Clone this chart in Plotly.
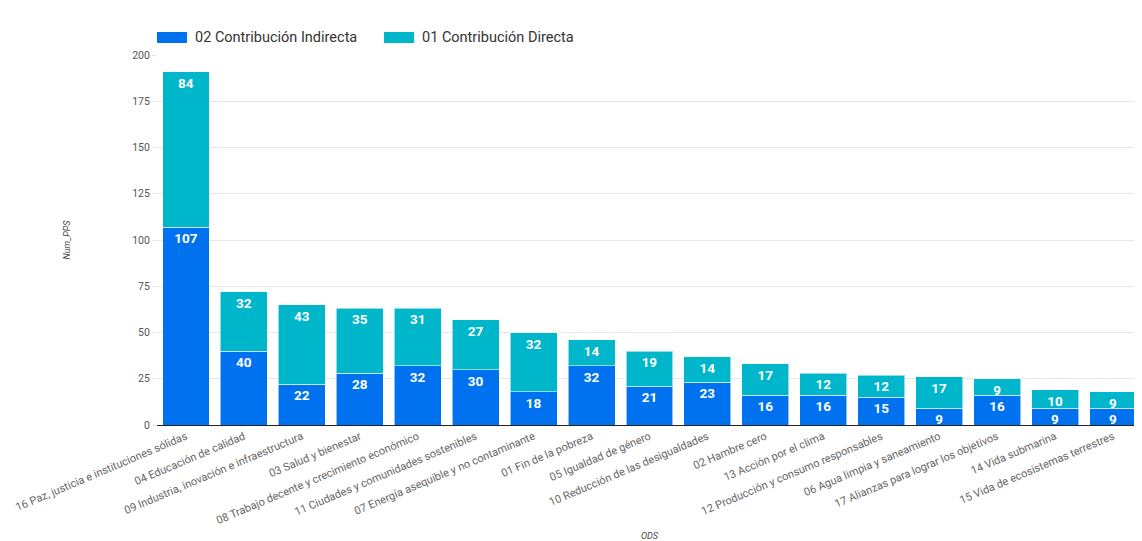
import plotly.graph_objects as go

categories = [
    "16 Paz, justicia e instituciones sólidas",
    "04 Educación de calidad",
    "09 Industria, inovación e infraestructura",
    "03 Salud y bienestar",
    "08 Trabajo decente y crecimiento económico",
    "11 Ciudades y comunidades sostenibles",
    "07 Energía asequible y no contaminante",
    "01 Fin de la pobreza",
    "05 Igualdad de género",
    "10 Reducción de las desigualdades",
    "02 Hambre cero",
    "13 Acción por el clima",
    "12 Producción y consumo responsables",
    "06 Agua limpia y saneamiento",
    "17 Alianzas para lograr los objetivos",
    "14 Vida submarina",
    "15 Vida de ecosistemas terrestres",
]
indirecta = [107, 40, 22, 28, 32, 30, 18, 32, 21, 23, 16, 16, 15, 9, 16, 9, 9]
directa = [84, 32, 43, 35, 31, 27, 32, 14, 19, 14, 17, 12, 12, 17, 9, 10, 9]
series_names = ["02 Contribución Indirecta", "01 Contribución Directa"]
series_colors = ["#0072f0", "#00b6cb"]
y_ticks = [0, 25, 50, 75, 100, 125, 150, 175, 200]

FONT = "Roboto, Open Sans, sans-serif"

fig = go.Figure()
for vals, name, color in zip([indirecta, directa], series_names, series_colors):
    fig.add_trace(go.Bar(
        x=categories, y=vals, name=name,
        marker=dict(color=color, line=dict(color="rgba(255,255,255,0.55)", width=1)),
        text=vals, textposition="inside", insidetextanchor="end",
        constraintext="none",
        textfont=dict(color="white", size=13.5, family=FONT, weight="bold"),
        textangle=0, showlegend=False,
    ))

# Legend drawn as wide swatches + text (as in the reference)
legend_x = [0.0, 0.2305]
for lx, name, color in zip(legend_x, series_names, series_colors):
    fig.add_shape(type="rect", xref="paper", yref="paper",
                  x0=lx, x1=lx + 0.0305, y0=1.0324, y1=1.0622,
                  fillcolor=color, line=dict(width=0))
    fig.add_annotation(xref="paper", yref="paper", x=lx + 0.037, y=1.0473,
                       xanchor="left", yanchor="middle", showarrow=False,
                       text=name, font=dict(size=14.5, color="#333333", family=FONT))

fig.update_layout(
    barmode="stack",
    bargap=0.19,
    width=1134, height=533,
    margin=dict(l=149, r=0, t=47, b=116, autoexpand=False),
    plot_bgcolor="white", paper_bgcolor="white",
    font=dict(family=FONT, color="#5f6368", size=10),
    showlegend=False,
    xaxis=dict(
        automargin=False,
        tickangle=-23, tickfont=dict(size=11, color="#666666"),
        showgrid=False, showline=True, linecolor="#222222", linewidth=1,
        title=dict(text="<i>ODS</i>", font=dict(size=9, color="#444444"), standoff=8),
        ticks="",
    ),
    yaxis=dict(
        automargin=False,
        range=[0, 200], tickvals=y_ticks,
        tickfont=dict(size=10.5, color="#555555"),
        gridcolor="#e6e6e6", gridwidth=1,
        zeroline=False, showline=False,
        ticks="outside", ticklen=4, tickcolor="#e6e6e6",
        title=dict(text="<i>Num_PPS</i>", font=dict(size=9, color="#444444"), standoff=60),
    ),
)

fig.write_html("out.html")
